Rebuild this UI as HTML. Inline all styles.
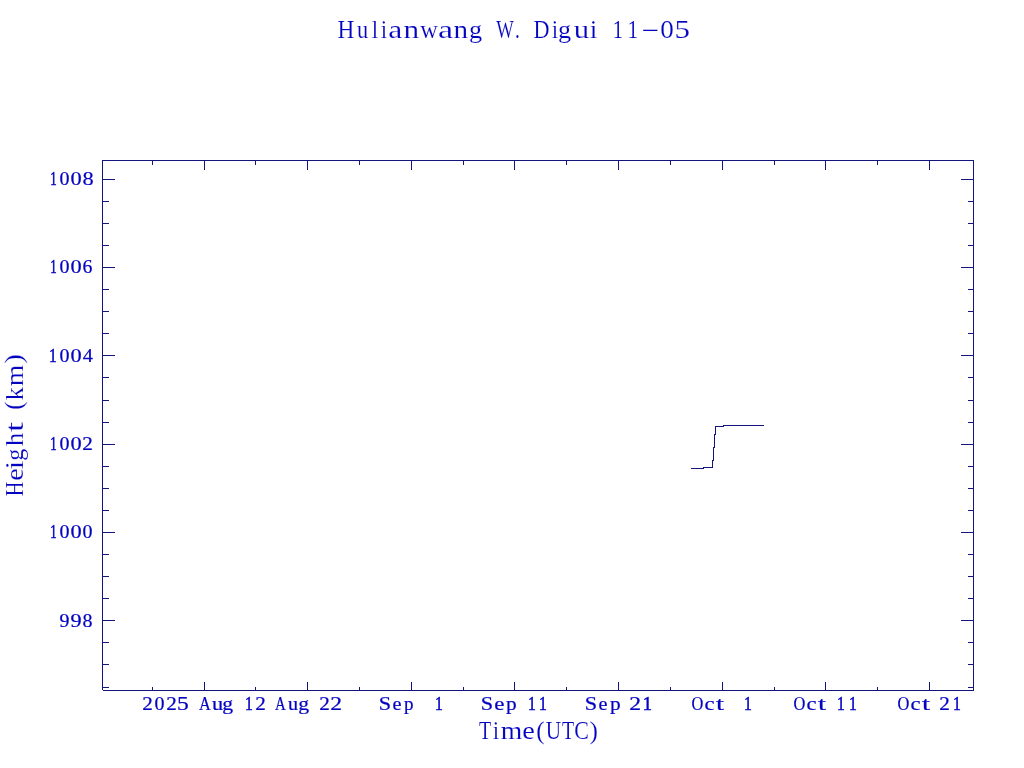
<!DOCTYPE html>
<html><head><meta charset="utf-8"><title>Hulianwang W. Digui 11-05</title><style>
html,body{margin:0;padding:0;background:#fff;width:1024px;height:768px;overflow:hidden}
svg{display:block;will-change:transform}
text{font-family:"Liberation Serif",serif;fill:#0404c0}
.s{stroke:#0404c0;stroke-width:0.22px;}
.one{stroke-width:0.55px}
.b{stroke:#fff;stroke-width:0.15px}
</style></head><body>
<svg width="1024" height="768" viewBox="0 0 1024 768" role="img" aria-label="Hulianwang W. Digui 11-05: Height (km) versus Time (UTC)">
<rect width="1024" height="768" fill="#fff"/>
<g fill="#14147e" shape-rendering="crispEdges">
<rect x="102" y="160" width="872" height="1"/>
<rect x="103" y="690" width="871" height="1"/>
<rect x="102" y="160" width="1" height="530"/>
<rect x="973" y="160" width="1" height="531"/>
<rect x="204" y="160" width="1" height="10"/>
<rect x="204" y="682" width="1" height="9"/>
<rect x="307" y="160" width="1" height="10"/>
<rect x="307" y="682" width="1" height="9"/>
<rect x="411" y="160" width="1" height="10"/>
<rect x="411" y="682" width="1" height="9"/>
<rect x="514" y="160" width="1" height="10"/>
<rect x="514" y="682" width="1" height="9"/>
<rect x="618" y="160" width="1" height="10"/>
<rect x="618" y="682" width="1" height="9"/>
<rect x="722" y="160" width="1" height="10"/>
<rect x="722" y="682" width="1" height="9"/>
<rect x="825" y="160" width="1" height="10"/>
<rect x="825" y="682" width="1" height="9"/>
<rect x="929" y="160" width="1" height="10"/>
<rect x="929" y="682" width="1" height="9"/>
<rect x="152" y="160" width="1" height="5"/>
<rect x="152" y="687" width="1" height="4"/>
<rect x="255" y="160" width="1" height="5"/>
<rect x="255" y="687" width="1" height="4"/>
<rect x="359" y="160" width="1" height="5"/>
<rect x="359" y="687" width="1" height="4"/>
<rect x="463" y="160" width="1" height="5"/>
<rect x="463" y="687" width="1" height="4"/>
<rect x="566" y="160" width="1" height="5"/>
<rect x="566" y="687" width="1" height="4"/>
<rect x="670" y="160" width="1" height="5"/>
<rect x="670" y="687" width="1" height="4"/>
<rect x="774" y="160" width="1" height="5"/>
<rect x="774" y="687" width="1" height="4"/>
<rect x="877" y="160" width="1" height="5"/>
<rect x="877" y="687" width="1" height="4"/>
<rect x="102" y="179" width="13" height="1"/>
<rect x="961" y="179" width="13" height="1"/>
<rect x="102" y="267" width="13" height="1"/>
<rect x="961" y="267" width="13" height="1"/>
<rect x="102" y="355" width="13" height="1"/>
<rect x="961" y="355" width="13" height="1"/>
<rect x="102" y="444" width="13" height="1"/>
<rect x="961" y="444" width="13" height="1"/>
<rect x="102" y="532" width="13" height="1"/>
<rect x="961" y="532" width="13" height="1"/>
<rect x="102" y="620" width="13" height="1"/>
<rect x="961" y="620" width="13" height="1"/>
<rect x="102" y="201" width="7" height="1"/>
<rect x="968" y="201" width="6" height="1"/>
<rect x="102" y="223" width="7" height="1"/>
<rect x="968" y="223" width="6" height="1"/>
<rect x="102" y="245" width="7" height="1"/>
<rect x="968" y="245" width="6" height="1"/>
<rect x="102" y="289" width="7" height="1"/>
<rect x="968" y="289" width="6" height="1"/>
<rect x="102" y="311" width="7" height="1"/>
<rect x="968" y="311" width="6" height="1"/>
<rect x="102" y="333" width="7" height="1"/>
<rect x="968" y="333" width="6" height="1"/>
<rect x="102" y="377" width="7" height="1"/>
<rect x="968" y="377" width="6" height="1"/>
<rect x="102" y="400" width="7" height="1"/>
<rect x="968" y="400" width="6" height="1"/>
<rect x="102" y="422" width="7" height="1"/>
<rect x="968" y="422" width="6" height="1"/>
<rect x="102" y="466" width="7" height="1"/>
<rect x="968" y="466" width="6" height="1"/>
<rect x="102" y="488" width="7" height="1"/>
<rect x="968" y="488" width="6" height="1"/>
<rect x="102" y="510" width="7" height="1"/>
<rect x="968" y="510" width="6" height="1"/>
<rect x="102" y="554" width="7" height="1"/>
<rect x="968" y="554" width="6" height="1"/>
<rect x="102" y="576" width="7" height="1"/>
<rect x="968" y="576" width="6" height="1"/>
<rect x="102" y="598" width="7" height="1"/>
<rect x="968" y="598" width="6" height="1"/>
<rect x="102" y="642" width="7" height="1"/>
<rect x="968" y="642" width="6" height="1"/>
<rect x="102" y="664" width="7" height="1"/>
<rect x="968" y="664" width="6" height="1"/>
<rect x="102" y="687" width="7" height="1"/>
<rect x="968" y="687" width="6" height="1"/>
<rect x="691" y="468" width="13" height="1"/>
<rect x="703" y="467" width="10" height="1"/>
<rect x="712" y="460" width="1" height="8"/>
<rect x="713" y="447" width="1" height="14"/>
<rect x="714" y="434" width="1" height="14"/>
<rect x="715" y="426" width="1" height="9"/>
<rect x="715" y="426" width="9" height="1"/>
<rect x="723" y="425" width="41" height="1"/>
</g>
<g>
<text class="b" font-size="26" transform="translate(337.58,38) scale(0.898,1)">H</text>
<text class="b" font-size="26" transform="translate(356.96,38) scale(0.860,1)">u</text>
<text class="b" font-size="26" transform="translate(371.79,38) scale(0.890,1)">l</text>
<text class="b" font-size="26" transform="translate(380.76,38) scale(0.890,1)">i</text>
<text class="b" font-size="26" transform="translate(388.14,38) scale(1.217,1)">a</text>
<text class="b" font-size="26" transform="translate(403.53,38) scale(1.207,1)">n</text>
<text class="b" font-size="26" transform="translate(420.23,38) scale(0.939,1)">w</text>
<text class="b" font-size="26" transform="translate(438.05,38) scale(1.314,1)">a</text>
<text class="b" font-size="26" transform="translate(453.58,38) scale(1.124,1)">n</text>
<text class="b" font-size="26" transform="translate(469.12,38) scale(1.010,1)">g</text>
<text class="b" font-size="26" transform="translate(496.23,38) scale(0.715,1)">W</text>
<text class="b" font-size="26" transform="translate(514.86,38) scale(0.814,1)">.</text>
<text class="b" font-size="26" transform="translate(533.61,38) scale(0.854,1)">D</text>
<text class="b" font-size="26" transform="translate(551.76,38) scale(0.890,1)">i</text>
<text class="b" font-size="26" transform="translate(558.12,38) scale(1.010,1)">g</text>
<text class="b" font-size="26" transform="translate(573.84,38) scale(1.187,1)">u</text>
<text class="b" font-size="26" transform="translate(589.68,38) scale(1.051,1)">i</text>
<text class="b" font-size="26" transform="translate(612.38,38) scale(0.819,1)">1</text>
<text class="b" font-size="26" transform="translate(627.38,38) scale(0.819,1)">1</text>
<text class="b" font-size="26" transform="translate(641.70,39.13) scale(1.198,1)">&#8722;</text>
<text class="b" font-size="26" transform="translate(660.22,38) scale(1.044,1)">0</text>
<text class="b" font-size="26" transform="translate(674.45,38) scale(1.193,1)">5</text>
<text class="s" font-size="19.5" transform="translate(142.32,710) scale(1.087,1)">2</text>
<text class="s" font-size="19.5" transform="translate(154.49,710) scale(1.028,1)">0</text>
<text class="s" font-size="19.5" transform="translate(166.32,710) scale(1.087,1)">2</text>
<text class="s" font-size="19.5" transform="translate(176.88,710) scale(1.209,1)">5</text>
<text class="s" font-size="19.5" transform="translate(199.09,710) scale(0.836,1)">A</text>
<text class="s" font-size="19.5" transform="translate(211.96,710) scale(1.146,1)">u</text>
<text class="s" font-size="19.5" transform="translate(222.32,710) scale(1.112,1)">g</text>
<text class="s one" font-size="19.5" transform="translate(244.88,710) scale(0.801,1)">1</text>
<text class="s" font-size="19.5" transform="translate(255.32,710) scale(1.087,1)">2</text>
<text class="s" font-size="19.5" transform="translate(275.10,710) scale(0.764,1)">A</text>
<text class="s" font-size="19.5" transform="translate(287.98,710) scale(1.037,1)">u</text>
<text class="s" font-size="19.5" transform="translate(298.32,710) scale(1.112,1)">g</text>
<text class="s" font-size="19.5" transform="translate(319.32,710) scale(1.087,1)">2</text>
<text class="s" font-size="19.5" transform="translate(330.21,710) scale(1.215,1)">2</text>
<text class="s" font-size="19.5" transform="translate(378.76,710) scale(1.140,1)">S</text>
<text class="s" font-size="19.5" transform="translate(392.46,710) scale(1.039,1)">e</text>
<text class="s" font-size="19.5" transform="translate(403.94,710) scale(0.980,1)">p</text>
<text class="s one" font-size="19.5" transform="translate(434.88,710) scale(0.801,1)">1</text>
<text class="s" font-size="19.5" transform="translate(480.76,710) scale(1.140,1)">S</text>
<text class="s" font-size="19.5" transform="translate(494.35,710) scale(1.178,1)">e</text>
<text class="s" font-size="19.5" transform="translate(505.91,710) scale(1.095,1)">p</text>
<text class="s one" font-size="19.5" transform="translate(527.88,710) scale(0.801,1)">1</text>
<text class="s one" font-size="19.5" transform="translate(538.88,710) scale(0.801,1)">1</text>
<text class="s" font-size="19.5" transform="translate(584.76,710) scale(1.140,1)">S</text>
<text class="s" font-size="19.5" transform="translate(598.46,710) scale(1.039,1)">e</text>
<text class="s" font-size="19.5" transform="translate(609.91,710) scale(1.095,1)">p</text>
<text class="s" font-size="19.5" transform="translate(629.21,710) scale(1.215,1)">2</text>
<text class="s one" font-size="19.5" transform="translate(642.63,710) scale(0.947,1)">1</text>
<text class="s" font-size="19.5" transform="translate(691.58,710) scale(0.841,1)">O</text>
<text class="s" font-size="19.5" transform="translate(704.39,710) scale(1.162,1)">c</text>
<text class="s" font-size="19.5" transform="translate(715.97,710) scale(1.467,1)">t</text>
<text class="s one" font-size="19.5" transform="translate(743.88,710) scale(0.801,1)">1</text>
<text class="s" font-size="19.5" transform="translate(793.58,710) scale(0.841,1)">O</text>
<text class="s" font-size="19.5" transform="translate(806.39,710) scale(1.162,1)">c</text>
<text class="s" font-size="19.5" transform="translate(817.97,710) scale(1.467,1)">t</text>
<text class="s one" font-size="19.5" transform="translate(836.88,710) scale(0.801,1)">1</text>
<text class="s one" font-size="19.5" transform="translate(848.88,710) scale(0.801,1)">1</text>
<text class="s" font-size="19.5" transform="translate(897.58,710) scale(0.841,1)">O</text>
<text class="s" font-size="19.5" transform="translate(910.39,710) scale(1.162,1)">c</text>
<text class="s" font-size="19.5" transform="translate(921.97,710) scale(1.467,1)">t</text>
<text class="s" font-size="19.5" transform="translate(939.32,710) scale(1.087,1)">2</text>
<text class="s one" font-size="19.5" transform="translate(952.88,710) scale(0.801,1)">1</text>
<text class="b" font-size="26" transform="translate(478.89,739) scale(0.768,1)">T</text>
<text class="b" font-size="26" transform="translate(492.76,739) scale(0.890,1)">i</text>
<text class="b" font-size="26" transform="translate(500.67,739) scale(1.064,1)">m</text>
<text class="b" font-size="26" transform="translate(522.14,739) scale(1.091,1)">e</text>
<text class="b" font-size="26" transform="translate(536.14,739) scale(0.973,1)">(</text>
<text class="b" font-size="26" transform="translate(545.80,739) scale(0.820,1)">U</text>
<text class="b" font-size="26" transform="translate(561.89,739) scale(0.768,1)">T</text>
<text class="b" font-size="26" transform="translate(574.35,739) scale(0.842,1)">C</text>
<text class="b" font-size="26" transform="translate(589.43,739) scale(0.973,1)">)</text>
<text class="s one" font-size="19.5" transform="translate(50.13,185) scale(0.655,1)">1</text>
<text class="s" font-size="19.5" transform="translate(59.49,185) scale(1.028,1)">0</text>
<text class="s" font-size="19.5" transform="translate(70.40,185) scale(1.149,1)">0</text>
<text class="s" font-size="19.5" transform="translate(82.40,185) scale(1.149,1)">8</text>
<text class="s one" font-size="19.5" transform="translate(50.13,273) scale(0.655,1)">1</text>
<text class="s" font-size="19.5" transform="translate(59.49,273) scale(1.028,1)">0</text>
<text class="s" font-size="19.5" transform="translate(70.40,273) scale(1.149,1)">0</text>
<text class="s" font-size="19.5" transform="translate(82.40,273) scale(1.020,1)">6</text>
<text class="s one" font-size="19.5" transform="translate(48.88,362) scale(0.801,1)">1</text>
<text class="s" font-size="19.5" transform="translate(59.49,362) scale(1.028,1)">0</text>
<text class="s" font-size="19.5" transform="translate(70.40,362) scale(1.149,1)">0</text>
<text class="s" font-size="19.5" transform="translate(82.85,362) scale(1.048,1)">4</text>
<text class="s one" font-size="19.5" transform="translate(50.13,450) scale(0.655,1)">1</text>
<text class="s" font-size="19.5" transform="translate(59.49,450) scale(1.028,1)">0</text>
<text class="s" font-size="19.5" transform="translate(70.40,450) scale(1.149,1)">0</text>
<text class="s" font-size="19.5" transform="translate(82.32,450) scale(1.087,1)">2</text>
<text class="s one" font-size="19.5" transform="translate(50.13,538) scale(0.655,1)">1</text>
<text class="s" font-size="19.5" transform="translate(59.49,538) scale(1.028,1)">0</text>
<text class="s" font-size="19.5" transform="translate(70.40,538) scale(1.149,1)">0</text>
<text class="s" font-size="19.5" transform="translate(82.49,538) scale(1.028,1)">0</text>
<text class="s" font-size="19.5" transform="translate(59.61,627) scale(1.021,1)">9</text>
<text class="s" font-size="19.5" transform="translate(70.53,627) scale(1.142,1)">9</text>
<text class="s" font-size="19.5" transform="translate(82.49,627) scale(1.028,1)">8</text>
<text class="b" font-size="26" transform="translate(23,496.34) rotate(-90) scale(0.782,1)">H</text>
<text class="b" font-size="26" transform="translate(23,480.86) rotate(-90) scale(1.091,1)">e</text>
<text class="b" font-size="26" transform="translate(23,469.41) rotate(-90) scale(1.213,1)">i</text>
<text class="b" font-size="26" transform="translate(23,460.78) rotate(-90) scale(0.922,1)">g</text>
<text class="b" font-size="26" transform="translate(23,446.01) rotate(-90) scale(1.008,1)">h</text>
<text class="b" font-size="26" transform="translate(23,432.10) rotate(-90) scale(1.393,1)">t</text>
<text class="b" font-size="26" transform="translate(22,409.86) rotate(-90) scale(0.973,1)">(</text>
<text class="b" font-size="26" transform="translate(23,400.24) rotate(-90) scale(1.000,1)">k</text>
<text class="b" font-size="26" transform="translate(23,386.33) rotate(-90) scale(1.064,1)">m</text>
<text class="b" font-size="26" transform="translate(22,363.69) rotate(-90) scale(1.123,1)">)</text>
</g>
</svg>
</body></html>
